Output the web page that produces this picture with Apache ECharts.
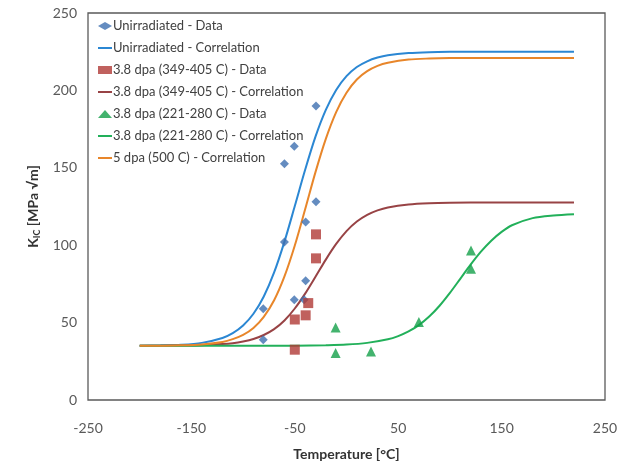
<!DOCTYPE html>
<html>
<head>
<meta charset="utf-8">
<script src="https://cdn.jsdelivr.net/npm/echarts@6/dist/echarts.min.js"></script>
<style>
  html, body { margin: 0; padding: 0; background: #fff; }
  #chart { width: 631px; height: 466px; }
</style>
</head>
<body>
<div id="chart"></div>
<script>
// measured points
var unirrT = [-29.5, -50.5, -60, -29.5, -39.5, -60, -39.5, -50.5, -41, -80.5, -80.5];
var unirrK = [190, 164, 152.6, 128, 115, 102, 77, 64.7, 64.7, 59, 39];
var hotT = [-29.5, -29.5, -37, -39.5, -50, -50];
var hotK = [107, 91.5, 62.6, 54.7, 52, 32.5];
var coldT = [-10.5, -10.5, 23.7, 70, 120.4, 120.4];
var coldK = [46.8, 30.3, 31.4, 50.4, 96.6, 84.8];

// correlation curves
var curveT = [-200, -180, -160, -140, -120, -110, -100, -90, -80, -70, -60, -50, -40, -30, -20, -10, 0, 10, 20, 30, 40, 60, 80, 100, 140, 180, 220];
var unirrCurve = [35.1, 35.3, 35.7, 36.9, 40.1, 43.2, 48.1, 55.7, 66.9, 82.4, 102.3, 125.3, 148.7, 170.1, 187.4, 200.3, 209.2, 215.1, 218.8, 221.2, 222.7, 224.1, 224.7, 224.9, 225, 225, 225];
var hotCurve = [35.0, 35.1, 35.2, 35.4, 36.1, 36.7, 37.8, 39.4, 42.0, 45.8, 51.4, 59.1, 68.7, 79.6, 90.7, 100.8, 109.1, 115.3, 119.6, 122.5, 124.4, 126.3, 127.1, 127.4, 127.6, 127.6, 127.6];
var dpa5Curve = [35.0, 35.1, 35.3, 35.9, 37.5, 39.3, 42.0, 46.5, 53.7, 64.4, 79.8, 99.8, 123.2, 147.2, 168.7, 186.0, 198.5, 207.0, 212.4, 215.8, 217.8, 219.9, 220.6, 220.9, 221, 221, 221];
var coldCurveT = [-200, -100, -50, -20, 0, 20, 40, 50, 60, 70, 80, 90, 100, 110, 120, 130, 140, 150, 160, 180, 200, 220];
var coldCurve = [35.0, 35.0, 35.1, 35.4, 35.8, 36.9, 39.2, 41.3, 44.3, 48.4, 53.9, 60.9, 69.2, 78.3, 87.4, 95.8, 102.9, 108.6, 112.9, 117.5, 119.2, 120];

var xTicks = [-250, -150, -50, 50, 150, 250];
var yTicks = [0, 50, 100, 150, 200, 250];

var dataNames = ['Unirradiated - Data', '3.8 dpa (349-405 C) - Data', '3.8 dpa (221-280 C) - Data'];
var curveNames = ['Unirradiated - Correlation', '3.8 dpa (349-405 C) - Correlation',
                  '3.8 dpa (221-280 C) - Correlation', '5 dpa (500 C) - Correlation'];

function pairs(xs, ys) {
    var out = [];
    for (var i = 0; i < xs.length; i++) out.push([xs[i], ys[i]]);
    return out;
}

var FONT = 'Lato, "Open Sans", sans-serif';

function dataSeries(name, xs, ys, symbol, size, color) {
    return {
        name: name, type: 'scatter', symbol: symbol, symbolSize: size,
        itemStyle: { color: color }, z: 5,
        data: pairs(xs, ys)
    };
}
function curveSeries(name, xs, ys, color) {
    return {
        name: name, type: 'line', showSymbol: false, symbol: 'none',
        smooth: 0.3,
        lineStyle: { color: color, width: 2 }, itemStyle: { color: color },
        z: 3, data: pairs(xs, ys)
    };
}

// legend: lines only (no dot) for correlation entries
function legendItem(name) {
    if (curveNames.indexOf(name) >= 0) {
        return { name: name, itemStyle: { opacity: 0, borderWidth: 0 } };
    }
    return { name: name };
}

var option = {
    animation: false,
    backgroundColor: '#fff',
    textStyle: { fontFamily: FONT },
    grid: {
        left: 88, right: 26, top: 13, bottom: 63,
        show: true, borderColor: '#5a5a5a', borderWidth: 1.3
    },
    legend: {
        orient: 'vertical', left: 97, top: 19, padding: 0,
        itemWidth: 14, itemHeight: 8, itemGap: 8,
        textStyle: { fontFamily: FONT, fontSize: 13, color: '#404040', lineHeight: 14, padding: [0, 0, 0, -4] },
        data: [dataNames[0], curveNames[0], dataNames[1], curveNames[1],
               dataNames[2], curveNames[2], curveNames[3]].map(legendItem)
    },
    xAxis: {
        type: 'value', min: xTicks[0], max: xTicks[xTicks.length - 1], interval: 100,
        axisLine: { show: false }, axisTick: { show: false }, splitLine: { show: false },
        axisLabel: { fontFamily: FONT, fontSize: 14, color: '#595959', margin: 21 },
        name: 'Temperature [°C]', nameLocation: 'middle', nameGap: 47,
        nameTextStyle: { fontFamily: FONT, fontSize: 14, fontWeight: 'bold', color: '#333' }
    },
    yAxis: {
        type: 'value', min: yTicks[0], max: yTicks[yTicks.length - 1], interval: 50,
        axisLine: { show: false }, axisTick: { show: false }, splitLine: { show: false },
        axisLabel: { fontFamily: FONT, fontSize: 14, color: '#595959', margin: 11 },
        name: '{k|K}{s|IC}{k| [MPa √m]}', nameLocation: 'middle', nameGap: 46, nameRotate: 90,
        nameTextStyle: {
            rich: {
                k: { fontFamily: FONT, fontSize: 14, fontWeight: 'bold', color: '#333', lineHeight: 18 },
                s: { fontFamily: FONT, fontSize: 9, fontWeight: 'bold', color: '#333', lineHeight: 18, padding: [8, 0, 0, 0] }
            }
        }
    },
    series: [
        dataSeries(dataNames[0], unirrT, unirrK, 'diamond', 9, '#3d6fb0'),
        curveSeries(curveNames[0], curveT, unirrCurve, '#2b87d3'),
        dataSeries(dataNames[1], hotT, hotK, 'rect', 10, '#b03a36'),
        curveSeries(curveNames[1], curveT, hotCurve, '#984345'),
        dataSeries(dataNames[2], coldT, coldK, 'triangle', 10, '#14a04a'),
        curveSeries(curveNames[2], coldCurveT, coldCurve, '#22b05a'),
        curveSeries(curveNames[3], curveT, dpa5Curve, '#e8862a')
    ]
};

var myChart = echarts.init(document.getElementById('chart'));
myChart.setOption(option);
</script>
</body>
</html>
